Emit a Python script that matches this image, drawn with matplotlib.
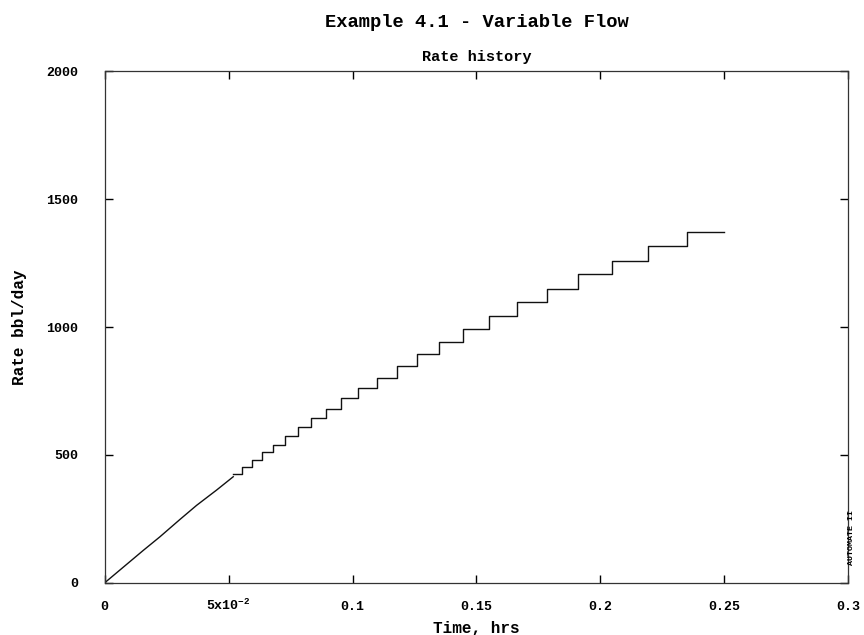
import numpy as np
import matplotlib
matplotlib.use("Agg")
import matplotlib.pyplot as plt
from matplotlib.ticker import FixedLocator, FixedFormatter

# Early part of the rate history (fine steps, read as points)
ramp_t = [0.0, 0.0156, 0.0223, 0.0304, 0.0371, 0.0452, 0.0519]
ramp_q = [0, 127, 180, 248, 303, 363, 415]

# Later part: start time of each rate level (hrs) and the rate (bbl/day)
step_t = [0.0519, 0.0553, 0.0593, 0.0633, 0.0678, 0.0727, 0.0779, 0.0832,
          0.0895, 0.0953, 0.1023, 0.1097, 0.1178, 0.1261, 0.1348, 0.1445,
          0.1551, 0.1662, 0.1783, 0.1908, 0.2047, 0.2192, 0.2347, 0.25]
step_q = [426, 454, 480, 510, 539, 574, 608, 643,
          680, 721, 763, 802, 849, 895, 943, 992,
          1043, 1096, 1148, 1206, 1259, 1318, 1372, 1372]

x_ticks = [0, 0.05, 0.1, 0.15, 0.2, 0.25, 0.3]
x_labels = ['0', '5x10$^{\\mathregular{-2}}$', '0.1', '0.15', '0.2', '0.25', '0.3']
y_ticks = [0, 500, 1000, 1500, 2000]
y_labels = ['0', '500', '1000', '1500', '2000']

FONT = 'Liberation Mono'
plt.rcParams['font.family'] = FONT
plt.rcParams['font.weight'] = 'bold'
plt.rcParams['mathtext.fontset'] = 'custom'
plt.rcParams['mathtext.rm'] = 'Liberation Mono:bold'

fig = plt.figure(figsize=(8.64, 6.35), dpi=100)
ax = fig.add_axes([0.121, 0.082, 0.861, 0.806])

ax.plot(ramp_t, ramp_q, color='#111111', lw=1.0)
ax.plot(step_t, step_q, color='#111111', lw=1.0, drawstyle='steps-post')

ax.set_xlim(0, 0.3)
ax.set_ylim(0, 2000)

ax.xaxis.set_major_locator(FixedLocator(x_ticks))
ax.xaxis.set_major_formatter(FixedFormatter(x_labels))
ax.yaxis.set_major_locator(FixedLocator(y_ticks))
ax.yaxis.set_major_formatter(FixedFormatter(y_labels))

ax.tick_params(axis='both', direction='in', length=6, width=1.0,
               top=True, right=True, labelsize=9.5, colors='black')
ax.tick_params(axis='y', pad=19)
ax.tick_params(axis='x', pad=19.5)
for lab in ax.get_xticklabels():
    lab.set_verticalalignment('baseline')
for s in ax.spines.values():
    s.set_linewidth(0.9)
    s.set_color('#333333')

ax.set_title('Rate history', fontsize=11, fontweight='bold', pad=7)
ax.set_xlabel('Time, hrs', fontsize=11.5, fontweight='bold', labelpad=6)
ax.set_ylabel('Rate bbl/day', fontsize=11.5, fontweight='bold', labelpad=14)

fig.text(0.552, 0.965, 'Example 4.1 - Variable Flow', ha='center', va='center',
         fontsize=13.5, fontweight='bold')
fig.text(0.986, 0.153, 'AUTOMATE II', rotation=90, ha='center', va='center',
         fontsize=6, fontweight='bold')

fig.savefig('out.png', dpi=100)
